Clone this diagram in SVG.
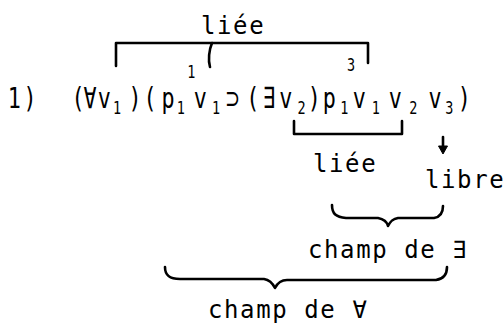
<svg xmlns="http://www.w3.org/2000/svg" width="504" height="332" viewBox="0 0 504 332">
<style>
text{font-family:"DejaVu Sans Mono","DejaVu Sans",monospace;fill:#000}
.m{font-size:29px;text-anchor:middle}
.s{font-size:18px;text-anchor:middle}
.lab{font-size:24px;letter-spacing:1.6px}
.ln{fill:none;stroke:#000;stroke-width:2.6;stroke-linecap:round;stroke-linejoin:round}
.ah{fill:#000;stroke:#000;stroke-width:1;stroke-linejoin:round}
</style>
<rect width="504" height="332" fill="#fff"/>
<g id="formula" transform="scale(0.75,1)">
<text class="m" y="108"><tspan x="19">1</tspan><tspan x="40">)</tspan></text>
<text class="m" y="108"><tspan x="104">(</tspan><tspan x="120">∀</tspan><tspan x="139">v</tspan><tspan x="180">)</tspan><tspan x="200">(</tspan><tspan x="224">p</tspan><tspan x="267">v</tspan><tspan x="310">⊃</tspan><tspan x="337">(</tspan><tspan x="359">∃</tspan><tspan x="381">v</tspan><tspan x="419">)</tspan><tspan x="439">p</tspan><tspan x="479">v</tspan><tspan x="527">v</tspan><tspan x="580">v</tspan><tspan x="619">)</tspan></text>
<text class="s" y="114"><tspan x="156">1</tspan><tspan x="241">1</tspan><tspan x="288">1</tspan><tspan x="402">2</tspan><tspan x="459">1</tspan><tspan x="501">1</tspan><tspan x="551">2</tspan><tspan x="599">3</tspan></text>
<text class="s" y="78"><tspan x="255">1</tspan></text>
<text class="s" y="71"><tspan x="468">3</tspan></text>
</g>
<g id="label-liee-top"><text class="lab" x="201" y="34">liée</text></g>
<g id="label-liee-bottom"><text class="lab" x="313" y="172">liée</text></g>
<g id="label-libre"><text class="lab" x="425" y="188">libre</text></g>
<g id="label-champ-E"><text class="lab" x="308" y="258">champ de ∃</text></g>
<g id="label-champ-A"><text class="lab" x="208" y="318">champ de ∀</text></g>
<g id="connectors">
<path class="ln" d="M116,66 V43 H368 V63"/>
<path class="ln" d="M212,43 C209,50 208,60 210,67"/>
<path class="ln" d="M294,121 V134 H402 V121"/>
<path class="ln" d="M443,137 V148"/>
<path class="ah" d="M438.5,146 L443,154 L447.5,146 Z"/>
<path class="ln" d="M332,205 C332,214 336,217 346,218 H378 C384,219 387,222 388,226 C390,222 392,219 398,218 H434 C440,217 443,213 443,206"/>
<path class="ln" d="M165,267 C165,275 169,279 180,279 H264 C270,280 273,284 275,288 C277,284 280,280 287,280 H436 C443,279 447,275 447,267"/>
</g>
</svg>
